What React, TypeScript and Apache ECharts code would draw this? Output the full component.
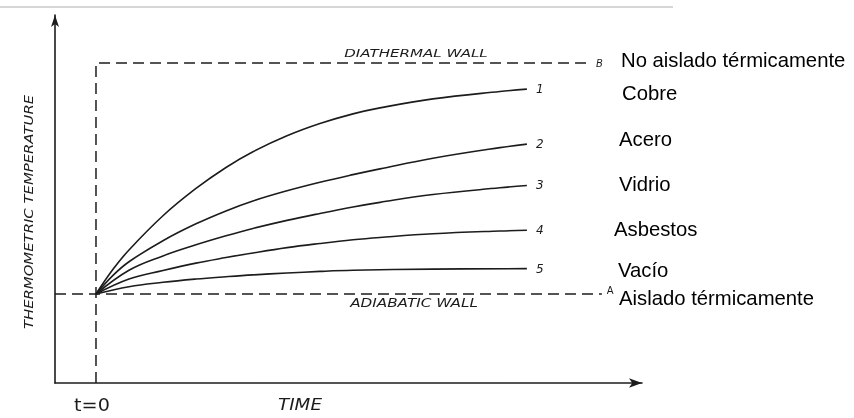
import React, { useEffect, useRef } from "react";
import * as echarts from "echarts";

// Normalized temperature: 0 = adiabatic wall (A), 1 = diathermal wall (B); time in arbitrary units, t=0 at the step.
const curve1: [number, number][] = [[0, 0], [0.415, 0.107], [0.805, 0.191], [1.634, 0.339], [2.439, 0.457], [3.171, 0.548], [3.829, 0.616], [4.659, 0.685], [5.463, 0.738], [6.268, 0.78], [6.927, 0.806], [8.22, 0.845], [9.854, 0.877], [10.512, 0.887]];
const curve2: [number, number][] = [[0, 0], [0.415, 0.081], [0.805, 0.14], [1.634, 0.231], [2.439, 0.304], [3.171, 0.36], [3.829, 0.403], [4.659, 0.447], [5.463, 0.484], [6.268, 0.517], [6.927, 0.542], [8.22, 0.588], [9.854, 0.634], [10.512, 0.649]];
const curve3: [number, number][] = [[0, 0], [0.805, 0.103], [1.634, 0.165], [2.439, 0.213], [3.171, 0.252], [3.829, 0.284], [4.659, 0.319], [5.463, 0.349], [6.268, 0.377], [6.927, 0.397], [8.22, 0.431], [9.854, 0.46], [10.512, 0.47]];
const curve4: [number, number][] = [[0, 0], [0.805, 0.065], [1.634, 0.102], [2.439, 0.134], [3.171, 0.158], [3.829, 0.178], [4.659, 0.201], [5.463, 0.219], [6.268, 0.235], [6.927, 0.245], [8.22, 0.261], [9.854, 0.273], [10.512, 0.276]];
const curve5: [number, number][] = [[0, 0], [0.805, 0.032], [1.634, 0.051], [2.439, 0.065], [3.171, 0.075], [3.829, 0.083], [4.659, 0.091], [5.463, 0.098], [6.268, 0.103], [8.22, 0.108], [10.512, 0.11]];
const curveNumbers = ["1", "2", "3", "4", "5"];
const materials = ["Cobre", "Acero", "Vidrio", "Asbestos", "Vacío"];
const diathermalLine: [number, number][] = [[0, -0.385], [0, 1], [12.05, 1]];
const adiabaticLine: [number, number][] = [[-1, 0], [12.34, 0]];
const wallLabels = { B: "No aislado térmicamente", A: "Aislado térmicamente" };

const INK = "#1c1c1c";

export default function App() {
  const ref = useRef<HTMLDivElement>(null);
  useEffect(() => {
    if (!ref.current) return;
    const chart = echarts.init(ref.current, undefined, { renderer: "svg" });
    const curves = [curve1, curve2, curve3, curve4, curve5];
    const curveSeries = curves.map((c, i) => ({
      type: "line",
      name: materials[i],
      data: c,
      smooth: 0.4,
      showSymbol: false,
      symbol: "none",
      lineStyle: { color: INK, width: 1.6 },
      endLabel: {
        show: true,
        formatter: curveNumbers[i],
        distance: 9,
        color: INK,
        fontStyle: "italic",
        fontFamily: "DejaVu Sans",
        fontSize: 12,
      },
      z: 3,
    }));
    const materialY = [93, 139, 184, 229, 270];
    const materialX = [622, 619, 619, 614, 618];
    const hand = (text: string, x: number, y: number, size: number, sx = 1, rot = 0, italic = true) => ({
      type: "text",
      x,
      y,
      rotation: rot,
      scaleX: sx,
      style: {
        text,
        textAlign: "center",
        textVerticalAlign: "middle",
        font: `${italic ? "italic " : ""}${size}px "DejaVu Sans"`,
        fill: INK,
      },
    });
    const sans = (text: string, x: number, y: number) => ({
      type: "text",
      x,
      y,
      style: {
        text,
        textAlign: "left",
        textVerticalAlign: "middle",
        font: '20.3px "Liberation Sans", Arial, sans-serif',
        fill: "#000",
      },
    });
    chart.setOption({
      animation: false,
      grid: { left: 55, right: 212, top: 15, bottom: 35 },
      xAxis: {
        type: "value",
        min: -1,
        max: 13.32,
        axisLine: { show: true, onZero: false, lineStyle: { color: INK, width: 1.6 }, symbol: ["none", "arrow"], symbolSize: [7, 13] },
        axisTick: { show: false },
        axisLabel: { show: false },
        splitLine: { show: false },
      },
      yAxis: {
        type: "value",
        min: -0.385,
        max: 1.208,
        axisLine: { show: true, onZero: false, lineStyle: { color: INK, width: 1.6 }, symbol: ["none", "arrow"], symbolSize: [6, 12] },
        axisTick: { show: false },
        axisLabel: { show: false },
        splitLine: { show: false },
      },
      series: [
        {
          type: "line",
          name: "Diathermal",
          data: diathermalLine,
          showSymbol: false,
          symbol: "none",
          lineStyle: { color: INK, width: 1.5, type: [11, 6] },
          endLabel: { show: true, formatter: "B", distance: 6, color: INK, fontStyle: "italic", fontFamily: "DejaVu Sans", fontSize: 10 },
          z: 2,
        },
        {
          type: "line",
          name: "Adiabatic",
          data: adiabaticLine,
          showSymbol: false,
          symbol: "none",
          lineStyle: { color: INK, width: 1.5, type: [11, 6] },
          endLabel: { show: true, formatter: "A", distance: 5, offset: [0, -4], color: INK, fontFamily: "DejaVu Sans", fontSize: 10 },
          z: 2,
        },
        ...curveSeries,
      ],
      graphic: [
        { type: "line", shape: { x1: 0, y1: 7, x2: 673, y2: 7 }, style: { stroke: "#d6d6d6", lineWidth: 2 } },
        hand("DIATHERMAL WALL", 416, 53, 11, 1.37),
        hand("ADIABATIC WALL", 414, 303, 12, 1.27),
        hand("THERMOMETRIC TEMPERATURE", 28, 212, 12.5, 1.19, Math.PI / 2),
        hand("t=0", 92, 405, 17, 1.13, 0, false),
        hand("TIME", 300, 405, 15, 1.22),
        sans(wallLabels.B, 621, 60),
        ...materials.map((m, i) => sans(m, materialX[i], materialY[i])),
        sans(wallLabels.A, 619, 298),
      ],
    });
    return () => chart.dispose();
  }, []);
  return <div ref={ref} style={{ position: "fixed", left: 0, top: 0, width: 854, height: 418 }} />;
}
